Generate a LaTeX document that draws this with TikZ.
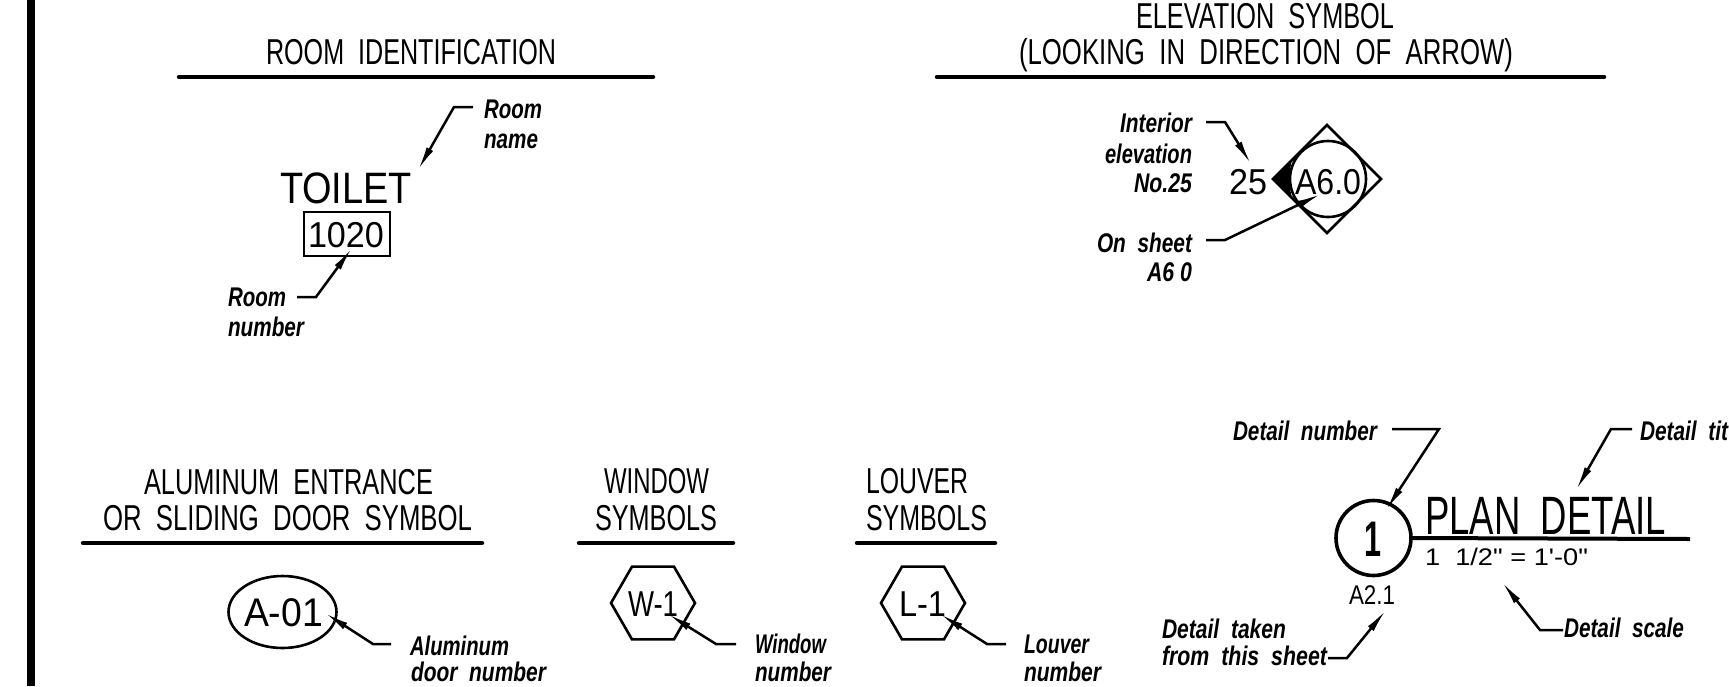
\documentclass[tikz,border=0pt]{standalone}
\usepackage{fontspec}
\usepackage{graphicx}
\usetikzlibrary{arrows.meta,shapes.geometric}
\newfontfamily\cadfont{Liberation Sans}
\newfontfamily\notefont{Liberation Sans Bold Italic}
\newfontfamily\numfont{Liberation Sans Bold}
\newcommand\cadsize[1]{\cadfont\fontsize{#1}{#1}\selectfont}
\newcommand\notesize{\notefont\fontsize{27}{27}\selectfont}
\newcommand\cadtext[6]{\node[inner sep=0pt,outer sep=0pt,anchor=base west] (#1) at (#2,#3) {\resizebox{#4pt}{\height}{#5#6}};}
\newcommand\notetext[5]{\cadtext{#1}{#2}{#3}{#4}{\notesize}{#5}}
\tikzset{
  titleline/.style={line width=4.5pt,line cap=round},
  leader/.style={line width=2.5pt,-{Latex[length=24pt,width=7.5pt]},line join=miter},
  symbol/.style={draw,line width=2.6pt,inner sep=0pt,outer sep=0pt},
}
\begin{document}
\begin{tikzpicture}[x=1pt,y=-1pt]
\useasboundingbox (0,0) rectangle (1729,686);
\clip (0,0) rectangle (1729,686);
\fill[white] (0,0) rectangle (1729,686);
\fill[black] (27,0) rectangle (35,686);

% ---- room identification
\cadtext{roomtitle}{266}{64}{290}{\cadsize{36}}{ROOM\ \ IDENTIFICATION}
\coordinate (rl1) at (179,77); \coordinate (rl2) at (653,77);
\draw[titleline] (rl1) -- (rl2);
\cadtext{toilet}{280}{203}{132}{\cadsize{44}}{TOILET}
\node[symbol,rectangle,minimum width=86pt,minimum height=44pt] (roombox) at (347,234) {};
\cadtext{roomno}{308}{247}{76}{\cadsize{36}}{1020}
\notetext{roomname1}{484}{118}{58}{Room}
\notetext{roomname2}{484}{148}{54}{name}
\notetext{roomnum1}{228}{306}{58}{Room}
\notetext{roomnum2}{228}{336}{76}{number}
\coordinate (a1) at (473,107); \coordinate (a2) at (454,107); \coordinate (a3) at (418,170);
\draw[leader] (a1) -- (a2) -- (a3);
\coordinate (b1) at (297,297); \coordinate (b2) at (316,297); \coordinate (b3) at (352,248);
\draw[leader] (b1) -- (b2) -- (b3);

% ---- elevation symbol
\cadtext{eltitle1}{1136}{28}{258}{\cadsize{36}}{ELEVATION\ \ SYMBOL}
\cadtext{eltitle2}{1019}{64}{494}{\cadsize{36}}{(LOOKING\ \ IN\ \ DIRECTION\ \ OF\ \ ARROW)}
\coordinate (el1) at (937,77); \coordinate (el2) at (1604,77);
\draw[titleline] (el1) -- (el2);
\fill[black] (1272,179) -- (1292,159) -- (1290,170) -- (1290,188) -- (1292,199) -- cycle;
\node[symbol,diamond,aspect=1,minimum width=108pt,minimum height=108pt] (eldiamond) at (1327,179) {};
\node[symbol,circle,minimum size=76pt] (elcircle) at (1328,179) {};
\cadtext{elno}{1229}{194}{38}{\cadsize{36}}{25}
\cadtext{elsheet}{1295}{194}{66}{\cadsize{36}}{A6.0}
\notetext{int1}{1120}{132}{72}{Interior}
\notetext{int2}{1105}{163}{87}{elevation}
\notetext{int3}{1134}{192}{58}{No.25}
\notetext{ons1}{1097}{252}{95}{On\ \ sheet}
\notetext{ons2}{1147}{281}{45}{A6 0}
\coordinate (c1) at (1206,122); \coordinate (c2) at (1225,122); \coordinate (c3) at (1251,164);
\draw[leader] (c1) -- (c2) -- (c3);
\coordinate (d1) at (1206,240); \coordinate (d2) at (1225,240); \coordinate (d3) at (1321,194);
\draw[leader] (d1) -- (d2) -- (d3);

% ---- aluminum door
\cadtext{altitle1}{144}{494}{289}{\cadsize{36}}{ALUMINUM\ \ ENTRANCE}
\cadtext{altitle2}{103}{530}{369}{\cadsize{36}}{OR\ \ SLIDING\ \ DOOR\ \ SYMBOL}
\coordinate (al1) at (83,543); \coordinate (al2) at (482,543);
\draw[titleline] (al1) -- (al2);
\node[symbol,ellipse,minimum width=108pt,minimum height=72pt] (alsym) at (282.5,612) {};
\cadtext{altext}{244}{626}{79}{\cadsize{40}}{A-01}
\notetext{alnote1}{410}{655}{99}{Aluminum}
\notetext{alnote2}{411}{681}{135}{door\ \ number}
\coordinate (e1) at (391,644); \coordinate (e2) at (373,644); \coordinate (e3) at (325,613);
\draw[leader] (e1) -- (e2) -- (e3);

% ---- window
\cadtext{wintitle1}{604}{493}{105}{\cadsize{36}}{WINDOW}
\cadtext{wintitle2}{595}{530}{122}{\cadsize{36}}{SYMBOLS}
\coordinate (wl1) at (579,543); \coordinate (wl2) at (733,543);
\draw[titleline] (wl1) -- (wl2);
\node[symbol,regular polygon,regular polygon sides=6,minimum size=84pt] (winsym) at (653,603) {};
\cadtext{wintext}{628}{616}{50}{\cadsize{36}}{W-1}
\notetext{winnote1}{755}{653}{71}{Window}
\notetext{winnote2}{755}{681}{76}{number}
\coordinate (f1) at (736,644); \coordinate (f2) at (716,644); \coordinate (f3) at (668,614);
\draw[leader] (f1) -- (f2) -- (f3);

% ---- louver
\cadtext{loutitle1}{866}{493}{102}{\cadsize{36}}{LOUVER}
\cadtext{loutitle2}{866}{530}{121}{\cadsize{36}}{SYMBOLS}
\coordinate (ll1) at (857,543); \coordinate (ll2) at (995,543);
\draw[titleline] (ll1) -- (ll2);
\node[symbol,regular polygon,regular polygon sides=6,minimum size=84pt] (lousym) at (923,603) {};
\cadtext{loutext}{899}{616}{47}{\cadsize{36}}{L-1}
\notetext{lounote1}{1024}{653}{65}{Louver}
\notetext{lounote2}{1024}{681}{77}{number}
\coordinate (g1) at (1006,644); \coordinate (g2) at (987,644); \coordinate (g3) at (940,614);
\draw[leader] (g1) -- (g2) -- (g3);

% ---- plan detail
\node[symbol,circle,minimum size=75pt,line width=3.6pt] (detcircle) at (1373.5,538) {};
\cadtext{detno}{1364}{556}{17}{\numfont\fontsize{50}{50}\selectfont}{1}
\coordinate (dl2) at (1690,539);
\draw[line width=4pt] (detcircle.east) -- (dl2);
\cadtext{dettitle}{1425}{534}{241}{\cadsize{54}}{PLAN\ \ DETAIL}
\cadtext{detscale}{1425}{565}{163}{\cadsize{24}}{1\ \ 1/2" = 1'-0"}
\cadtext{detsheet}{1349}{604}{46}{\cadsize{27}}{A2.1}
\notetext{dn}{1233}{440}{144}{Detail\ \ number}
\notetext{dt}{1640}{440}{88}{Detail\ \ tit}
\notetext{dk1}{1162}{638}{124}{Detail\ \ taken}
\notetext{dk2}{1162}{665}{165}{from\ \ this\ \ sheet}
\notetext{ds}{1564}{637}{120}{Detail\ \ scale}
\coordinate (h1) at (1392,429); \coordinate (h2) at (1439,429); \coordinate (h3) at (1386,510);
\draw[leader] (h1) -- (h2) -- (h3);
\coordinate (i1) at (1632,429); \coordinate (i2) at (1611,429); \coordinate (i3) at (1576,490);
\draw[leader] (i1) -- (i2) -- (i3);
\coordinate (j1) at (1328,658); \coordinate (j2) at (1347,658); \coordinate (j3) at (1386,610);
\draw[leader] (j1) -- (j2) -- (j3);
\coordinate (k1) at (1563,630); \coordinate (k2) at (1540,630); \coordinate (k3) at (1502,582);
\draw[leader] (k1) -- (k2) -- (k3);
\end{tikzpicture}
\end{document}
